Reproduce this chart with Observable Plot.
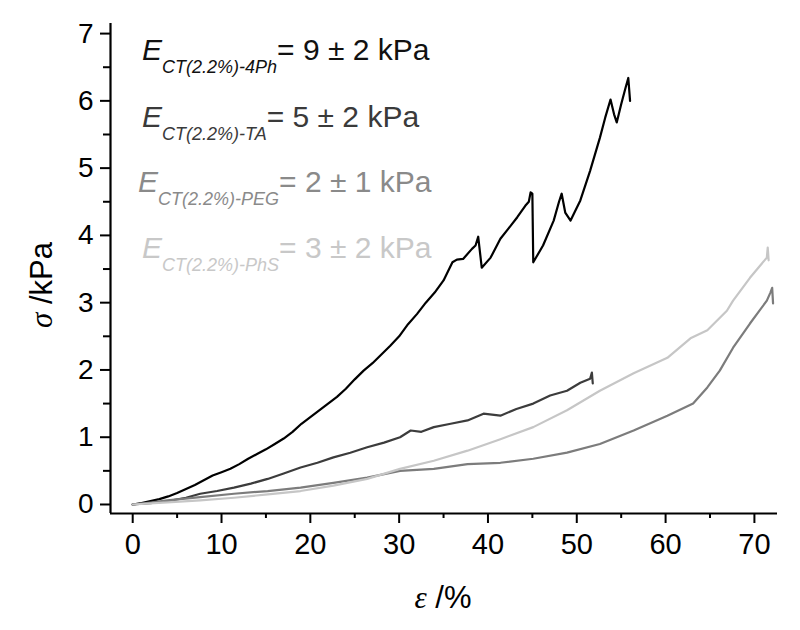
<!DOCTYPE html>
<html>
<head>
<meta charset="utf-8">
<script src="https://cdn.jsdelivr.net/npm/d3@7"></script>
<script src="https://cdn.jsdelivr.net/npm/@observablehq/plot@0.6"></script>
<style>
  html, body { margin: 0; padding: 0; background: #fff; }
  #chart svg { display: block; }
</style>
</head>
<body>
<div id="chart"></div>
<script>
// ---- data ----
const seriesNames = ["4Ph", "TA", "PEG", "PhS"];
const seriesColors = ["#000000", "#3c3c3c", "#7c7c7c", "#c6c6c6"];

const x4Ph = [0,1,2,3,4,5,6,7,8,9,10,11,12,13,14,15,16,17,18,19,20,21,22,23,24,25,26,27,28,29,30,31,32,33,34,35,36,36.5,37.2,38.2,38.6,38.9,39.3,40.3,41.4,42.3,43.3,44.2,44.6,44.8,45.0,45.1,46.2,47.4,48.0,48.3,48.7,49.3,50.4,51.5,52.6,53.2,53.8,54.2,54.5,55.0,55.5,55.8,56.0];
const y4Ph = [0,0.02,0.05,0.08,0.12,0.17,0.23,0.29,0.36,0.43,0.48,0.53,0.6,0.68,0.75,0.82,0.9,0.98,1.08,1.2,1.3,1.4,1.5,1.6,1.72,1.86,1.99,2.1,2.23,2.36,2.5,2.68,2.83,3.0,3.15,3.33,3.6,3.64,3.65,3.8,3.85,3.98,3.52,3.67,3.95,4.1,4.27,4.44,4.5,4.64,4.62,3.6,3.85,4.22,4.5,4.62,4.34,4.22,4.52,4.96,5.45,5.75,6.02,5.8,5.68,5.95,6.2,6.34,6.0];

const xTA = [0,2,4,6,7.6,9.5,11.4,13.3,15.2,17,18.9,20.8,22.6,24.5,26.4,28.3,30.1,31.3,32.5,33.9,35.8,37.7,39.5,41.4,43.2,45.1,47,48.9,50.4,51.5,51.7,51.8];
const yTA = [0,0.02,0.05,0.1,0.16,0.2,0.25,0.31,0.38,0.46,0.55,0.62,0.7,0.77,0.85,0.92,1.0,1.1,1.08,1.15,1.2,1.25,1.35,1.32,1.42,1.5,1.62,1.69,1.81,1.87,1.96,1.8];

const xPEG = [0,2,3.9,7.6,11.4,15.2,18.9,22.6,26.4,30.1,33.9,37.7,41.4,45.1,48.9,52.6,56.4,60.2,63.1,64.7,66.1,67.6,69.5,71.4,71.8,72.0,72.1];
const yPEG = [0,0.03,0.06,0.11,0.16,0.2,0.25,0.32,0.4,0.5,0.53,0.6,0.62,0.68,0.77,0.9,1.1,1.32,1.5,1.74,1.99,2.33,2.69,3.03,3.15,3.22,2.99];

const xPhS = [0,3.9,7.6,11.4,15.2,18.9,22.6,26.4,30.1,33.9,37.7,41.4,45.1,48.9,52.6,56.4,60.2,62.8,64.7,66.9,67.6,69.5,71.4,71.5,71.6];
const yPhS = [0,0.03,0.06,0.1,0.15,0.2,0.28,0.38,0.53,0.65,0.8,0.97,1.15,1.4,1.69,1.95,2.18,2.47,2.59,2.88,3.03,3.37,3.67,3.82,3.63];

const xDomain = [-2.5, 72.6];
const yDomain = [-0.134, 7.15];
const xTicks = [0,10,20,30,40,50,60,70];
const xMinor = [5,15,25,35,45,55,65];
const yTicks = [0,1,2,3,4,5,6,7];
const yMinor = [0.5,1.5,2.5,3.5,4.5,5.5,6.5];

const legendLines = [
  {sub: "CT(2.2%)-4Ph", rest: "= 9 \u00B1 2 kPa", color: "#111111"},
  {sub: "CT(2.2%)-TA",  rest: "= 5 \u00B1 2 kPa", color: "#3a3a3a"},
  {sub: "CT(2.2%)-PEG", rest: "= 2 \u00B1 1 kPa", color: "#8a8a8a"},
  {sub: "CT(2.2%)-PhS", rest: "= 3 \u00B1 2 kPa", color: "#c8c8c8"}
];

// ---- build table ----
const xs = [x4Ph, xTA, xPEG, xPhS];
const ys = [y4Ph, yTA, yPEG, yPhS];
const rows = [];
seriesNames.forEach((name, i) => {
  xs[i].forEach((x, j) => rows.push({series: name, x, y: ys[i][j]}));
});

const plot = Plot.plot({
  width: 800,
  height: 630,
  marginLeft: 110,
  marginRight: 23,
  marginTop: 23,
  marginBottom: 117,
  style: {fontFamily: "'Liberation Sans', Arial, sans-serif", color: "#000", background: "#fff"},
  x: {domain: xDomain},
  y: {domain: yDomain},
  color: {domain: seriesNames, range: seriesColors},
  marks: [
    Plot.axisX({ticks: xMinor, tickSize: 5, tickFormat: () => "", strokeWidth: 2, label: null}),
    Plot.axisX({ticks: xTicks, tickSize: 10, tickPadding: 10, strokeWidth: 2, fontSize: 29, label: null, tickFormat: d => String(d)}),
    Plot.axisY({ticks: yMinor, tickSize: 7, tickFormat: () => "", strokeWidth: 2, label: null}),
    Plot.axisY({ticks: yTicks, tickSize: 10, tickPadding: 7, strokeWidth: 2, fontSize: 28, label: null, tickFormat: d => String(d)}),
    Plot.ruleY([yDomain[0]], {strokeWidth: 2.2}),
    Plot.ruleX([xDomain[0]], {strokeWidth: 2.2}),
    Plot.line(rows, {x: "x", y: "y", z: "series", stroke: "series", strokeWidth: 2.2, strokeLinejoin: "round"})
  ]
});

document.getElementById("chart").appendChild(plot);

const svg = d3.select(plot);

// legend-like annotations
const baseY = [60, 127, 192, 258];
const baseX = [142, 142, 138, 142];
legendLines.forEach((l, i) => {
  const t = svg.append("text")
    .attr("x", baseX[i]).attr("y", baseY[i])
    .attr("text-anchor", "start")
    .attr("fill", l.color)
    .attr("font-family", "'Liberation Sans', Arial, sans-serif")
    .attr("font-size", 30);
  t.append("tspan").attr("font-style", "italic").text("E");
  t.append("tspan").attr("font-style", "italic").attr("font-size", 18).attr("dy", 13).text(l.sub);
  t.append("tspan").attr("dy", -13).text(l.rest);
});

// axis labels
const xl = svg.append("text")
  .attr("x", 443).attr("y", 608)
  .attr("text-anchor", "middle")
  .attr("font-family", "'Liberation Sans', Arial, sans-serif")
  .attr("font-size", 31);
xl.append("tspan").attr("font-family", "'Liberation Serif', serif").attr("font-style", "italic").text("\u03B5");
xl.append("tspan").text(" /%");

const yl = svg.append("text")
  .attr("transform", "translate(52,285) rotate(-90)")
  .attr("text-anchor", "middle")
  .attr("font-family", "'Liberation Sans', Arial, sans-serif")
  .attr("font-size", 31);
yl.append("tspan").attr("font-family", "'Liberation Serif', serif").attr("font-style", "italic").text("\u03C3");
yl.append("tspan").text(" /kPa");
</script>
</body>
</html>
